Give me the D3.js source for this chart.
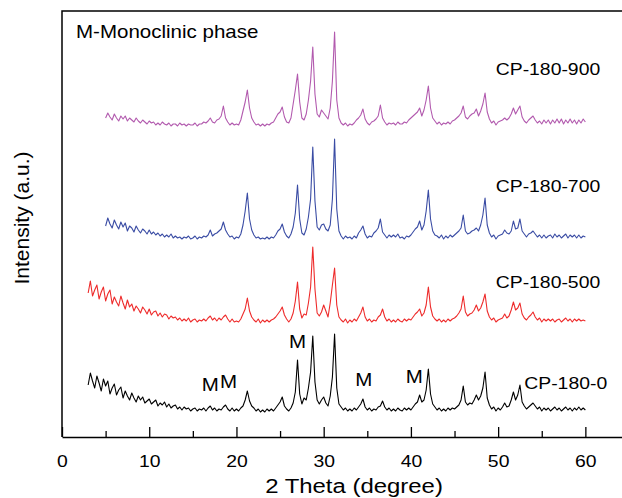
<html>
<head>
<title>XRD patterns CP-180</title>
<script src="https://d3js.org/d3.v7.min.js"></script>
<style>
body { margin: 0; background: #fff; }
text { font-family: Arial, "Liberation Sans", sans-serif; fill: #000; }
.trace { fill: none; stroke-width: 1.1px; stroke-linejoin: round; }
.frame { fill: none; stroke: #000; stroke-width: 1.5px; }
</style>
</head>
<body>
<div id="xrd_plot"></div>
<script>
// sample names, bottom to top, and their stacking offsets (a.u.)
var seriesNames = ["CP-180-0", "CP-180-500", "CP-180-700", "CP-180-900"];
var seriesColors = ["#000000", "#ee2b2b", "#3a4ca4", "#b25aae"];
var offsets = [25, 114, 198, 311];
// scans are sampled on a 0.25 degree grid
var stepDeg = 0.25;
var startAngles = [3, 3, 5, 5];

// intensities, one row per degree
var cp0 = [
  27, 39, 31, 24,  36, 29, 21, 33,  26, 31, 18, 24,  28, 17, 22, 25,
  14, 21, 16, 12,  19, 14, 10, 16,  12, 15, 9, 11,  13, 8, 10, 12,
  6, 9, 7, 10,  5, 8, 4, 6,  7, 3, 5, 2,  5, 3, 4, 1,
  3, 4, 1, 3,  2, 4, 1, 4,  6, 2, 4, 1,  3, 2, 5, 7,
  3, 1, 4, 1,  3, 1, 4, 6,  12, 21, 11, 6,  4, 1, 3, 0,
  2, 0, 3, 1,  3, 1, 4, 7,  10, 15, 6, 3,  1, 4, 9, 20,
  52, 18, 8, 14,  12, 24, 40, 76,  30, 12, 8, 12,  15, 9, 6, 16,
  35, 78, 24, 8,  5, 2, 4, 1,  3, 1, 4, 2,  5, 8, 13, 5,
  2, 4, 1, 3,  2, 5, 6, 11,  5, 2, 4, 1,  3, 1, 4, 2,
  1, 4, 2, 4,  2, 5, 8, 10,  17, 10, 12, 22,  43, 18, 8, 5,
  2, 4, 1, 3,  1, 4, 2, 4,  3, 5, 7, 12,  26, 10, 7, 9,
  8, 12, 17, 12,  16, 24, 40, 14,  7, 3, 5, 1,  4, 2, 5, 9,
  5, 6, 12, 20,  12, 17, 27, 10,  6, 3, 5, 7,  9, 6, 3, 5,
  1, 4, 2, 4,  1, 3, 5, 2,  4, 1, 3, 5,  2, 4, 1, 4,
  2, 5, 2, 4,  2
];
var cp500 = [
  30, 42, 27, 33,  38, 24, 31, 36,  22, 29, 33, 19,  26, 21, 17, 27,
  20, 14, 23, 16,  19, 12, 17, 14,  10, 16, 13, 9,  14, 8, 11, 12,
  7, 10, 6, 9,  8, 4, 7, 5,  6, 3, 5, 2,  4, 2, 5, 1,
  3, 4, 1, 3,  2, 4, 2, 5,  7, 3, 5, 2,  5, 3, 6, 8,
  4, 1, 4, 1,  2, 1, 4, 9,  14, 25, 12, 6,  3, 1, 4, 0,
  3, 1, 3, 1,  3, 4, 6, 9,  12, 16, 8, 4,  1, 4, 10, 22,
  41, 14, 5, 9,  8, 20, 36, 76,  34, 10, 7, 11,  18, 12, 6, 20,
  38, 55, 18, 6,  3, 1, 4, 0,  3, 1, 4, 2,  6, 10, 16, 6,
  2, 4, 1, 3,  2, 6, 8, 14,  6, 2, 4, 1,  3, 1, 4, 2,
  1, 4, 2, 4,  3, 6, 9, 11,  14, 7, 10, 18,  36, 16, 7, 4,
  2, 4, 1, 3,  1, 4, 2, 4,  5, 7, 10, 14,  27, 11, 7, 9,
  10, 13, 18, 12,  15, 21, 29, 12,  6, 3, 5, 1,  3, 4, 5, 9,
  5, 7, 13, 21,  13, 15, 20, 9,  5, 3, 6, 8,  11, 6, 3, 5,
  1, 4, 2, 4,  2, 4, 1, 3,  4, 1, 3, 5,  2, 4, 1, 4,
  2, 4, 2, 3,  2
];
var cp700 = [
  13, 21, 15, 11,  19, 14, 10, 17,  12, 16, 8, 13,  11, 7, 13, 9,
  6, 10, 8, 5,  9, 5, 7, 4,  6, 3, 5, 2,  4, 2, 5, 1,
  3, 1, 2, 0,  2, 1, 3, 0,  1, 3, 0, 2,  1, 3, 2, 4,
  9, 3, 5, 6,  8, 10, 17, 9,  5, 2, 3, 0,  2, 1, 5, 14,
  28, 46, 20, 9,  4, 1, 2, 0,  1, 0, 2, 0,  2, 1, 4, 8,
  10, 15, 7, 3,  1, 5, 12, 26,  54, 20, 6, 4,  10, 22, 40, 92,
  38, 12, 9, 14,  15, 10, 8, 14,  40, 100, 30, 8,  3, 0, 3, 1,
  2, 0, 3, 1,  6, 9, 13, 5,  1, 3, 2, 6,  8, 11, 20, 7,
  4, 1, 4, 2,  4, 2, 5, 1,  2, 0, 3, 2,  4, 7, 10, 12,
  18, 9, 14, 28,  49, 20, 8, 4,  3, 1, 4, 0,  3, 1, 4, 2,
  4, 6, 8, 11,  24, 8, 5, 6,  8, 9, 11, 8,  14, 24, 41, 14,
  6, 2, 4, 0,  3, 4, 5, 9,  6, 5, 8, 18,  10, 11, 20, 8,
  5, 2, 5, 6,  8, 5, 2, 4,  1, 4, 1, 3,  4, 1, 5, 2,
  4, 1, 3, 5,  1, 4, 2, 4,  1, 4, 1, 3,  2
];
var cp900 = [
  8, 13, 9, 6,  12, 8, 5, 10,  7, 10, 5, 8,  6, 4, 8, 5,
  3, 6, 4, 2,  5, 3, 4, 1,  3, 1, 4, 2,  1, 3, 0, 2,
  2, 0, 3, 1,  2, 0, 2, 1,  1, 3, 0, 2,  2, 4, 3, 5,
  8, 4, 3, 6,  7, 10, 20, 8,  4, 1, 3, 1,  2, 1, 6, 15,
  24, 36, 18, 8,  4, 1, 2, 0,  2, 0, 2, 1,  3, 4, 8, 12,
  14, 19, 9, 4,  3, 8, 22, 36,  52, 24, 8, 6,  12, 26, 45, 79,
  32, 12, 9, 16,  13, 10, 7, 18,  45, 94, 26, 8,  3, 1, 3, 0,
  2, 1, 3, 6,  8, 11, 17, 7,  3, 1, 4, 5,  7, 10, 21, 8,
  4, 1, 3, 2,  3, 1, 4, 2,  2, 4, 3, 6,  8, 10, 12, 14,
  18, 10, 16, 26,  40, 18, 8, 5,  2, 4, 1, 3,  2, 4, 2, 5,
  6, 8, 10, 13,  20, 9, 7, 10,  12, 13, 17, 10,  15, 22, 33, 14,
  7, 3, 5, 1,  4, 5, 6, 8,  6, 8, 12, 18,  12, 16, 20, 9,
  5, 3, 6, 8,  10, 6, 3, 5,  2, 6, 3, 6,  2, 6, 3, 7,
  3, 7, 2, 6,  3, 7, 3, 6,  2, 6, 3, 7,  4
];
var seriesValues = [cp0, cp500, cp700, cp900];

// monoclinic phase markers on the CP-180-0 pattern
var markAngles = [17.0, 19.1, 27.0, 34.6, 40.4];
var markHeights = [46, 49, 89, 51, 54];

var xTicks = [0, 10, 20, 30, 40, 50, 60];
var xMinorTicks = [5, 15, 25, 35, 45, 55];

// layout
var margin = {top: 11, right: 0, bottom: 61, left: 62},
    width = 622 - margin.left - margin.right,
    height = 498 - margin.top - margin.bottom;
var stretch = 1.14;

var svg = d3.select("#xrd_plot")
  .append("svg")
    .attr("width", 622)
    .attr("height", 498)
  .append("g")
    .attr("transform", "translate(" + margin.left + "," + margin.top + ")");

var x = d3.scaleLinear().domain([0, 64.2]).range([0, width]);
var y = d3.scaleLinear().domain([0, 426]).range([height, 0]);

function addText(tx, ty, str, size, anchor) {
  return svg.append("text")
    .attr("transform", "translate(" + tx + "," + ty + ") scale(" + stretch + ",1)")
    .attr("text-anchor", anchor)
    .style("font-size", size + "px")
    .text(str);
}

// traces
var line = d3.line()
    .x(function(d) { return x(d[0]); })
    .y(function(d) { return y(d[1]); });

for (var s = 0; s < seriesValues.length; s++) {
  var pts = seriesValues[s].map(function(v, i) {
    return [startAngles[s] + i * stepDeg, v + offsets[s]];
  });
  svg.append("path")
    .datum(pts)
    .attr("class", "trace")
    .style("stroke", seriesColors[s])
    .attr("d", line);
}

// x axis, ticks pointing inward
var axis = svg.append("g")
  .attr("transform", "translate(0," + height + ")")
  .call(d3.axisBottom(x).tickValues(xTicks).tickSizeInner(-10).tickSizeOuter(0).tickPadding(18));
axis.select(".domain").attr("stroke-width", 1.5);
axis.selectAll(".tick line").attr("stroke-width", 1.3);
axis.selectAll(".tick text")
  .attr("font-family", null)
  .attr("font-size", null)
  .style("font-size", "17px")
  .attr("transform", "scale(" + stretch + ",1)");

svg.append("g")
  .attr("transform", "translate(0," + height + ")")
  .call(d3.axisBottom(x).tickValues(xMinorTicks).tickSizeInner(-6).tickSizeOuter(0).tickFormat(""))
  .call(function(g) { g.select(".domain").remove(); })
  .selectAll(".tick line").attr("stroke-width", 1.3);

// frame: left and top edges
svg.append("path")
  .attr("class", "frame")
  .attr("d", d3.line()([[0, height], [0, 0], [width, 0]]));

// labels
addText(14, 27, "M-Monoclinic phase", 18, "start");
var labelHeights = [48, 149, 245, 362];
var labelAngles = [62.5, 61.7, 61.7, 61.7];
for (var k = 0; k < seriesNames.length; k++) {
  addText(x(labelAngles[k]), y(labelHeights[k]), seriesNames[k], 17, "end");
}
for (var m = 0; m < markAngles.length; m++) {
  addText(x(markAngles[m]), y(markHeights[m]), "M", 18, "middle");
}

addText(width / 2 + 12, height + 56, "2 Theta (degree)", 21, "middle");
svg.append("text")
  .attr("transform", "translate(-33," + (height / 2 - 6) + ") rotate(-90)")
  .attr("text-anchor", "middle")
  .style("font-size", "21px")
  .text("Intensity (a.u.)");
</script>
</body>
</html>
